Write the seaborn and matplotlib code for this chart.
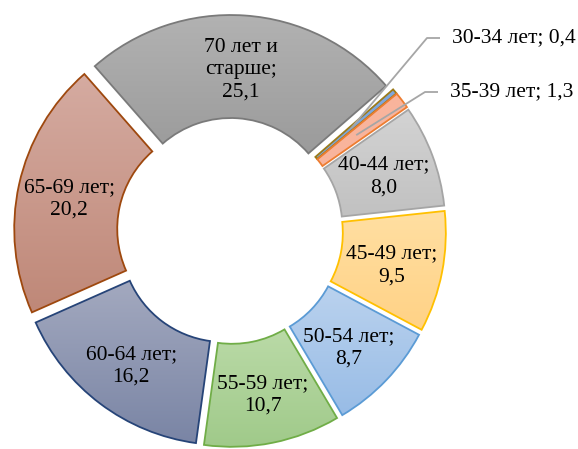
import numpy as np
import matplotlib
matplotlib.use("Agg")
import matplotlib.pyplot as plt
import seaborn as sns
from matplotlib.colors import to_rgb

sns.set_theme(style="white")
plt.rcParams['font.family'] = ['Liberation Serif', 'DejaVu Serif']

# ---- data ----
categories = ["30-34 лет", "35-39 лет", "40-44 лет", "45-49 лет", "50-54 лет",
              "55-59 лет", "60-64 лет", "65-69 лет", "70 лет и\nстарше"]
values = [0.4, 1.3, 8.0, 9.5, 8.7, 10.7, 16.2, 20.2, 25.1]
value_labels = ["0,4", "1,3", "8,0", "9,5", "8,7", "10,7", "16,2", "20,2", "25,1"]

# ---- styles ----
top_colors = ["#7fa6dc", "#f9b49c", "#d3d3d3", "#ffdfa2", "#bad2ee",
              "#badaa7", "#a3a9bf", "#d5aba1", "#b2b2b2"]
bottom_colors = ["#7fa6dc", "#f9b49c", "#c1c1c1", "#ffd286", "#98bce6",
                 "#a0ca8a", "#7a85a5", "#bf8878", "#9b9b9b"]
edge_colors = ["#9c7b1a", "#ed7d31", "#a5a5a5", "#ffc000", "#5b9bd5",
               "#70ad47", "#264478", "#9e480e", "#7a7a7a"]

W, H = 578, 449
fig = plt.figure(figsize=(W / 100, H / 100), dpi=100)
ax = fig.add_axes([0, 0, 1, 1])

R = 206
ring = 103
cx, cy = 230, 218
wedges, _ = ax.pie(values, startangle=41, counterclock=False, radius=R,
                   center=(cx, cy), explode=[10] * len(values),
                   colors=top_colors,
                   wedgeprops=dict(width=ring, linewidth=1.3))

for i, w in enumerate(wedges):
    w.set_edgecolor(edge_colors[i])
    w.set_facecolor("none")
    w.set_zorder(3)
    ext = w.get_path().get_extents()
    c0 = np.array(to_rgb(bottom_colors[i]))
    c1 = np.array(to_rgb(top_colors[i]))
    t = np.linspace(0, 1, 64)[:, None]
    grad = (c0[None, :] * (1 - t) + c1[None, :] * t)[:, None, :]
    im = ax.imshow(grad, extent=[ext.x0, ext.x1, ext.y0, ext.y1],
                   origin="lower", interpolation="bilinear", zorder=2,
                   aspect="auto")
    im.set_clip_path(w)

rm = R - ring / 2
for i, w in enumerate(wedges):
    th = np.deg2rad((w.theta1 + w.theta2) / 2)
    px = w.center[0] + rm * np.cos(th)
    py = w.center[1] + rm * np.sin(th)
    txt = f"{categories[i]};\n{value_labels[i]}"
    if i >= 2:
        ax.text(px, py - 3, txt, ha="center", va="center", fontsize=15.5,
                linespacing=1.25, color="black", zorder=5)

# leader-line labels for the two smallest slices
knees = [(427, 411), (425, 357)]
for i, (kx, ky) in zip([0, 1], knees):
    w = wedges[i]
    th = np.deg2rad((w.theta1 + w.theta2) / 2)
    px = w.center[0] + (rm - 6) * np.cos(th)
    py = w.center[1] + (rm - 6) * np.sin(th)
    ax.plot([px, kx, kx + 13], [py, ky, ky], color="#a6a6a6", lw=1.3,
            zorder=6, solid_capstyle="butt")
    ax.text(kx + 25, ky, f"{categories[i]}; {value_labels[i]}", ha="left",
            va="center", fontsize=15.5, color="black", zorder=6)

ax.set_xlim(0, W)
ax.set_ylim(0, H)
ax.set_aspect("equal")
ax.axis("off")
fig.savefig("out.png", dpi=100, facecolor="white")
